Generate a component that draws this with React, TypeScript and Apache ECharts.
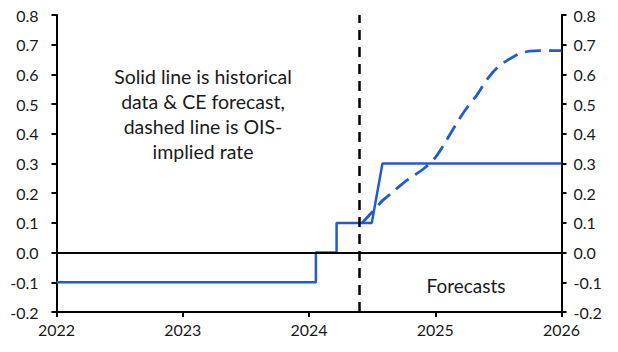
import React, { useEffect, useRef } from "react";
import * as echarts from "echarts";

const yearTicks = [2022, 2023, 2024, 2025, 2026];
const yTickLabels = ["-0.2", "-0.1", "0.0", "0.1", "0.2", "0.3", "0.4", "0.5", "0.6", "0.7", "0.8"];

// Solid line: historical policy rate & CE forecast (step changes)
const solidDates = [
  "2022-01-01", "2024-01-21", "2024-01-21", "2024-03-21", "2024-03-21",
  "2024-07-01", "2024-08-01", "2026-01-01",
];
const solidValues = [-0.1, -0.1, 0.0, 0.0, 0.1, 0.1, 0.3, 0.3];

// Dashed line: OIS-implied rate
const dashedDates = [
  "2024-06-03", "2024-07-01", "2024-08-01", "2024-09-01", "2024-10-01", "2024-11-01",
  "2024-12-01", "2025-01-01", "2025-02-01", "2025-03-01", "2025-04-01", "2025-05-01",
  "2025-06-01", "2025-07-01", "2025-08-01", "2025-09-01", "2025-10-01", "2025-11-01",
  "2025-12-01", "2026-01-01",
];
const dashedValues = [
  0.10, 0.135, 0.175, 0.205, 0.235, 0.26, 0.285, 0.32, 0.375, 0.43, 0.485, 0.53,
  0.585, 0.625, 0.65, 0.67, 0.678, 0.68, 0.68, 0.68,
];

const forecastStart = "2024-05-28";

function toYear(d: string): number {
  const [y, m, day] = d.split("-").map(Number);
  const start = Date.UTC(y, 0, 1);
  const end = Date.UTC(y + 1, 0, 1);
  return y + (Date.UTC(y, m - 1, day) - start) / (end - start);
}

const FONT = "Lato";
const BLUE = "#1f5bd3";

export default function App() {
  const ref = useRef<HTMLDivElement>(null);
  useEffect(() => {
    if (!ref.current) return;
    const chart = echarts.init(ref.current, null, { renderer: "svg" });
    const yAxisCommon = {
      type: "value" as const,
      min: -0.2,
      max: 0.8,
      interval: 0.1,
      splitLine: { show: false },
      axisLine: { show: true, lineStyle: { color: "#000", width: 2 } },
      axisTick: { show: true, length: 5, inside: false, lineStyle: { color: "#000", width: 2 } },
    };
    const fmt = (v: number) => {
      const idx = Math.round((v + 0.2) * 10);
      return yTickLabels[idx] ?? v.toFixed(1);
    };
    chart.setOption({
      animation: false,
      grid: { left: 56.5, right: 56.5, top: 15, bottom: 40 },
      xAxis: {
        type: "value",
        min: yearTicks[0],
        max: yearTicks[yearTicks.length - 1],
        interval: 1,
        splitLine: { show: false },
        axisLine: { show: true, onZero: false, lineStyle: { color: "#000", width: 2 } },
        axisTick: { show: true, length: 5, lineStyle: { color: "#000", width: 2 } },
        axisLabel: {
          color: "#1a1a1a",
          fontFamily: FONT,
          fontSize: 16,
          margin: 9,
          formatter: (v: number) => String(Math.round(v)),
        },
      },
      yAxis: [
        {
          ...yAxisCommon,
          position: "left",
          axisLabel: { color: "#1a1a1a", fontFamily: FONT, fontSize: 16, margin: 18, formatter: fmt },
        },
        {
          ...yAxisCommon,
          position: "right",
          axisLabel: { color: "#1a1a1a", fontFamily: FONT, fontSize: 16, margin: 12, formatter: fmt },
        },
      ],
      series: [
        {
          type: "line",
          data: solidDates.map((d, i) => [toYear(d), solidValues[i]]),
          showSymbol: false,
          symbol: "none",
          lineStyle: { color: BLUE, width: 2.5 },
          z: 3,
          markLine: {
            silent: true,
            symbol: "none",
            label: { show: false },
            data: [
              { yAxis: 0, lineStyle: { color: "#000", width: 2, type: "solid" } },
              {
                xAxis: toYear(forecastStart),
                lineStyle: { color: "#000", width: 2.5, type: [10, 7] },
              },
            ],
          },
        },
        {
          type: "line",
          data: dashedDates.map((d, i) => [toYear(d), dashedValues[i]]),
          showSymbol: false,
          symbol: "none",
          smooth: 0.3,
          lineStyle: { color: BLUE, width: 2.8, type: [16, 8] },
          z: 4,
        },
      ],
      graphic: [
        {
          type: "text",
          x: 203,
          y: 64,
          style: {
            text: "Solid line is historical\ndata & CE forecast,\ndashed line is OIS-\nimplied rate",
            fontFamily: FONT,
            fontSize: 19.5,
            lineHeight: 25,
            fill: "#1a1a1a",
            align: "center",
            verticalAlign: "top",
          },
        },
        {
          type: "text",
          x: 466,
          y: 285,
          style: {
            text: "Forecasts",
            fontFamily: FONT,
            fontSize: 19,
            fill: "#1a1a1a",
            align: "center",
            verticalAlign: "middle",
          },
        },
      ],
    });
    return () => chart.dispose();
  }, []);
  return <div ref={ref} style={{ width: 618, height: 352, position: "absolute", left: 0, top: 0 }} />;
}
